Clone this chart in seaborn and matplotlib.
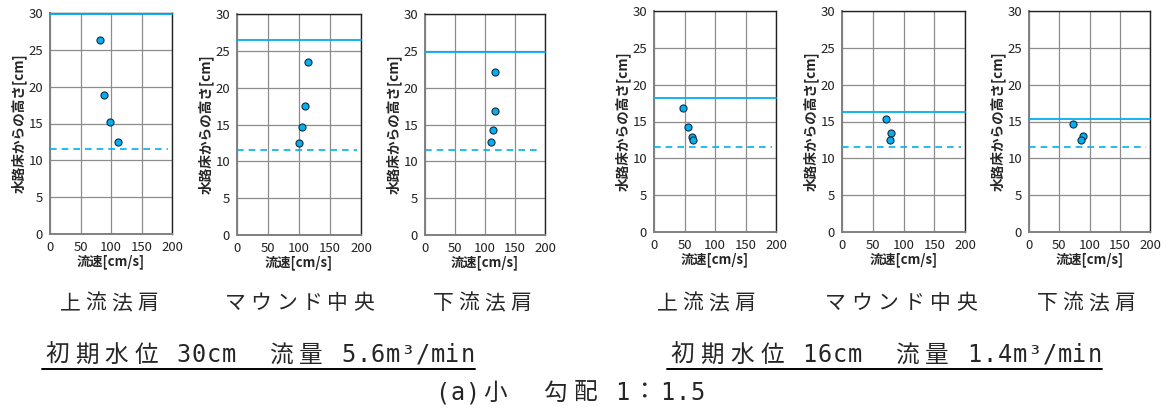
import numpy as np
import pandas as pd
import matplotlib
matplotlib.use("Agg")
import matplotlib.pyplot as plt
from matplotlib.lines import Line2D
import seaborn as sns

# ---- data ----
stations = ["上流法肩", "マウンド中央", "下流法肩"]
case_titles = ["初期水位 30cm\u3000流量 5.6m³/min", "初期水位 16cm\u3000流量 1.4m³/min"]
suptitle = "(a)小\u3000勾配 1：1.5"

# case 1 : initial water level 30cm
speed_30 = [[82, 89, 99, 111], [100, 105, 110, 115], [110, 112.5, 116, 116]]
height_30 = [[26.3, 18.9, 15.2, 12.5], [12.5, 14.6, 17.5, 23.5], [12.6, 14.2, 16.9, 22.1]]
surface_30 = [29.9, 26.5, 24.8]
# case 2 : initial water level 16cm
speed_16 = [[48, 55.5, 62, 64], [72, 79, 77.6], [73, 89, 86.5]]
height_16 = [[16.9, 14.2, 12.9, 12.5], [15.4, 13.4, 12.5], [14.6, 13.0, 12.5]]
surface_16 = [18.2, 16.35, 15.4]
mound_top = 11.5

xticks = [0, 50, 100, 150, 200]
yticks = [0, 5, 10, 15, 20, 25, 30]

rows = []
for case, (sp, hs) in enumerate([(speed_30, height_30), (speed_16, height_16)]):
    for k, st in enumerate(stations):
        for v, h in zip(sp[k], hs[k]):
            rows.append({"case": case, "station": st, "speed": v, "height": h})
df = pd.DataFrame(rows)
surfaces = [surface_30, surface_16]

sns.set_style("white")
plt.rcParams["font.family"] = ["Noto Sans CJK JP", "DejaVu Sans"]

W, H = 1170, 416
fig = plt.figure(figsize=(W / 100, H / 100), dpi=100)


def mono_text(s, x0, x1, yc, size):
    # lay text out like a fixed-pitch gothic font: full width = 1, ascii = 0.5
    widths = [0.5 if ord(c) < 0x2000 else 1.0 for c in s]
    unit = (x1 - x0) / sum(widths)
    x = x0
    for c, w in zip(s, widths):
        if c.strip():
            fam = ["DejaVu Sans Mono"] if w < 1 else ["Noto Sans CJK JP", "DejaVu Sans"]
            fig.text((x + w * unit / 2) / W, 1 - yc / H, c, fontsize=size,
                     family=fam, ha="center", va="center")
        x += w * unit


# axes boxes in pixels: (left, right, top, bottom)
boxes = [(50, 172, 13, 234), (237, 361, 14, 235), (425, 545, 14, 235),
         (654, 776, 11, 232), (842, 965, 11, 232), (1029, 1150, 11, 232)]
station_spans = [(60, 158), (225, 373), (433, 531), (657, 755), (825, 977), (1037, 1135)]

blue = "#00B0F0"
for i, (l, r, t, b) in enumerate(boxes):
    case, k = divmod(i, 3)
    ax = fig.add_axes([l / W, 1 - b / H, (r - l) / W, (b - t) / H])
    sub = df[(df["case"] == case) & (df["station"] == stations[k])]
    ax.axhline(surfaces[case][k], color=blue, lw=1.3, zorder=4, clip_on=False)
    ax.axhline(mound_top, xmax=0.97, color=blue, lw=1.2, ls=(0, (4, 3)), zorder=3)
    sns.scatterplot(data=sub, x="speed", y="height", ax=ax, s=26, color=blue,
                    edgecolor="#1a2a3a", linewidth=0.8, zorder=5, legend=False)
    ax.set_xlim(0, 200)
    ax.set_ylim(0, 30)
    ax.set_xticks(xticks)
    ax.set_yticks(yticks)
    ax.grid(True, color="#8c8c8c", lw=0.9)
    ax.set_axisbelow(True)
    for s in ["top", "right"]:
        ax.spines[s].set_color("#222222")
        ax.spines[s].set_linewidth(1.0)
    for s in ["left", "bottom"]:
        ax.spines[s].set_color("#808080")
        ax.spines[s].set_linewidth(1.4)
    ax.tick_params(axis="both", length=3, width=0.9, color="#808080",
                   labelsize=9.5, pad=2, labelcolor="#222222")
    ax.set_xlabel("流速[cm/s]", fontsize=9.5, fontweight="bold", labelpad=0)
    ax.set_ylabel("水路床からの高さ[cm]", fontsize=9.8, fontweight="bold", labelpad=1)
    # station name under each panel
    x0, x1 = station_spans[i]
    mono_text(stations[k], x0 - 3, x1 + 3, 303, 15)

# case titles with underline
title_spans = [(42, 475), (667, 1102)]
for (x0, x1), txt in zip(title_spans, case_titles):
    mono_text(txt, x0, x1, 355, 17)
    fig.add_artist(Line2D([x0 / W, x1 / W], [1 - 369 / H] * 2, color="black", lw=1.4))

mono_text(suptitle, 435, 705, 393, 17)

fig.savefig("out.png", dpi=100)
